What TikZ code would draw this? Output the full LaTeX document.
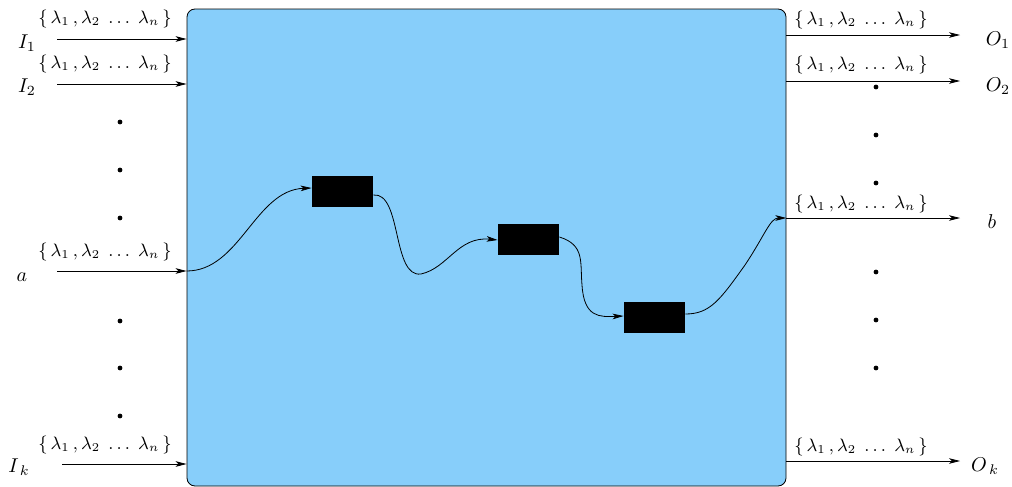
\documentclass[tikz,border=0pt]{standalone}
\usetikzlibrary{arrows.meta,calc}
\definecolor{sky}{RGB}{135,206,250}
\newcommand{\lam}{$\{\,\lambda_1\,,\lambda_2\;\ldots\;\lambda_n\,\}$}
\begin{document}
\begin{tikzpicture}[x=0.5pt,y=-0.5pt,
  >={Stealth[length=5.5pt,width=2.8pt,inset=1.4pt]},
  conn/.style={->,line width=0.4pt},
  lamlbl/.style={font=\small,inner sep=0pt},
  pname/.style={font=\normalsize,inner sep=0pt},
  blk/.style={draw=none,fill=black,minimum width=30.5pt,minimum height=15.5pt,inner sep=0pt},
  vdot/.style={circle,fill=black,inner sep=0pt,minimum size=2.4pt}]
\useasboundingbox (0,0) rectangle (1012,487);
% system box
\node (sys) [draw,fill=sky,rounded corners=4pt,line width=0.4pt,
  minimum width=299.5pt,minimum height=238.5pt,inner sep=0pt] at (486.5,247.5) {};
% inputs
\coordinate (i1) at (57,39);
\coordinate (i2) at (57,84);
\coordinate (ia) at (57,271);
\coordinate (ik) at (62,464);
\foreach \c in {i1,i2,ia,ik}{\draw[conn] (\c) -- (\c -| sys.west);}
\node[pname] (tI1) at (27,43) {$I_1$};
\node[pname] (tI2) at (27,87) {$I_2$};
\node[pname] (ta) at (22,277) {$a$};
\node[pname] (tIk) at (19,467) {$I_{\,k}$};
\node[lamlbl] (l1) at (105,19) {\lam};
\node[lamlbl] (l2) at (105,64) {\lam};
\node[lamlbl] (la) at (105,252) {\lam};
\node[lamlbl] (lk) at (105,445) {\lam};
\node[vdot] (d1) at (120,122) {};
\node[vdot] (d2) at (120,170) {};
\node[vdot] (d3) at (120,218) {};
\node[vdot] (d4) at (120,321) {};
\node[vdot] (d5) at (120,368) {};
\node[vdot] (d6) at (120,416) {};
% outputs
\coordinate (o1) at (960,35);
\coordinate (o2) at (960,81);
\coordinate (ob) at (960,218);
\coordinate (ok) at (960,461);
\foreach \c in {o1,o2,ob,ok}{\draw[conn] (\c -| sys.east) -- (\c);}
\node[pname] (tO1) at (998,40) {$O_1$};
\node[pname] (tO2) at (998,86) {$O_2$};
\node[pname] (tb) at (992,222) {$b$};
\node[pname] (tOk) at (985,466) {$O_{\,k}$};
\node[lamlbl] (r1) at (861,20) {\lam};
\node[lamlbl] (r2) at (861,65) {\lam};
\node[lamlbl] (rb) at (861,204) {\lam};
\node[lamlbl] (rk) at (861,447) {\lam};
\node[vdot] (e1) at (876,87) {};
\node[vdot] (e2) at (876,135) {};
\node[vdot] (e3) at (876,183) {};
\node[vdot] (e4) at (876,272) {};
\node[vdot] (e5) at (876,320) {};
\node[vdot] (e6) at (876,368) {};
% blocks
\node[blk] (b1) at (342.5,191.5) {};
\node[blk] (b2) at (528.5,239.5) {};
\node[blk] (b3) at (654.5,317.5) {};
% path
\coordinate (pin) at (ia -| sys.west);
\coordinate (pout) at (ob -| sys.east);
\draw[conn] (pin) .. controls (240,271) and (255,190) .. ($(b1.west)+(0,-3.5)$);
\draw[conn] ($(b1.east)+(0,3.5)$) .. controls (402,192) and (392,278) .. (421,274)
  .. controls (448,268) and (458,236) .. ($(b2.west)+(0,0.5)$);
\draw[conn] ($(b2.east)+(0,-2.5)$) .. controls (585,245) and (580,262) .. (582,285)
  .. controls (584,318) and (600,317) .. ($(b3.west)+(0,-1.5)$);
\draw[conn] ($(b3.east)+(0,-3.5)$) .. controls (710,314) and (720,300) .. (745,265)
  .. controls (765,235) and (770,218) .. (pout);
\end{tikzpicture}
\end{document}
